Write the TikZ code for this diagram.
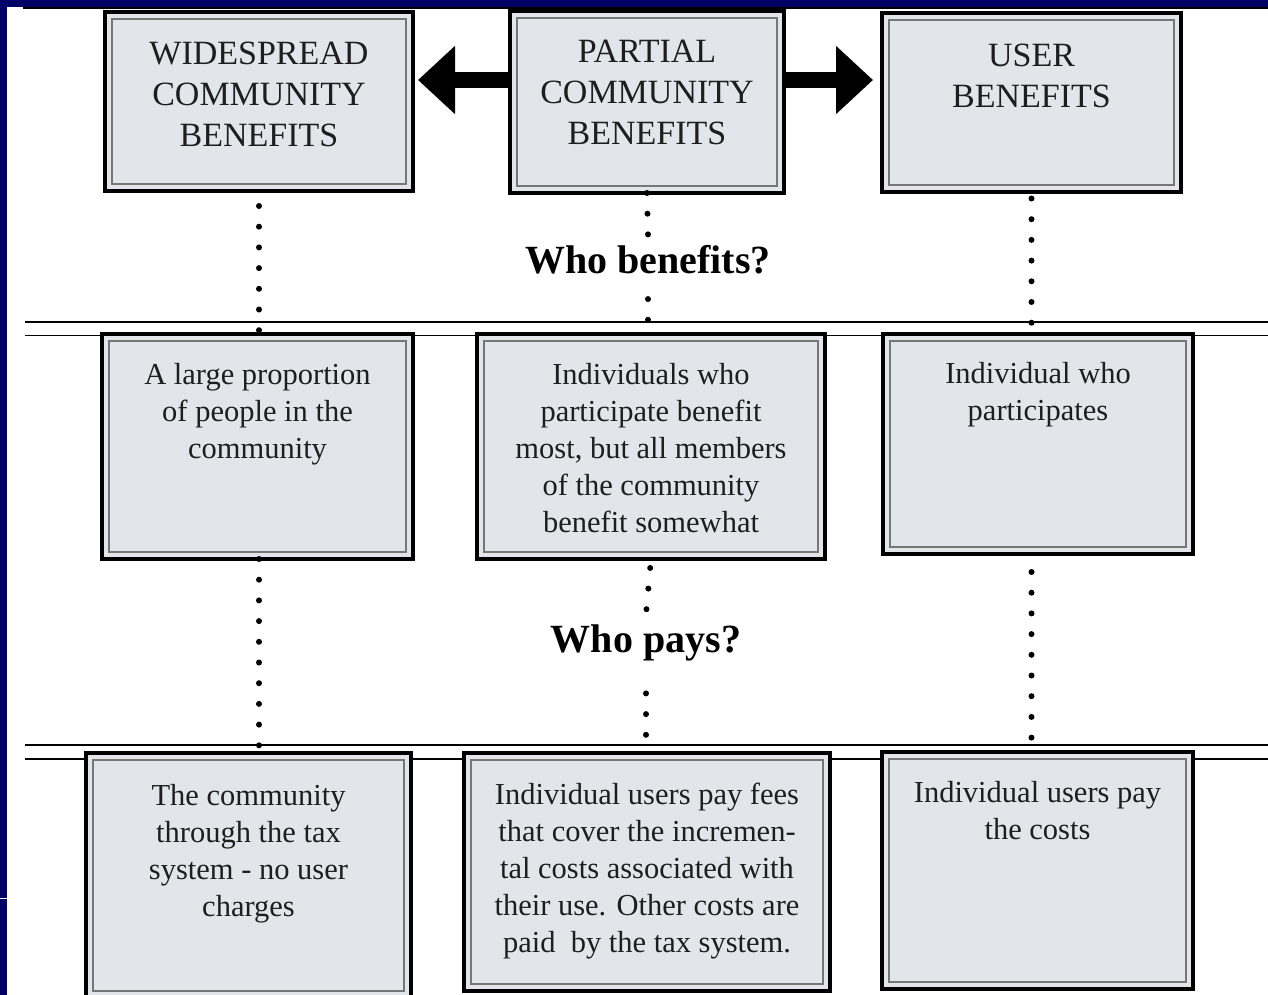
\documentclass[tikz,border=0pt]{standalone}
\usepackage{fontspec}
\setmainfont{Liberation Serif}
\usetikzlibrary{arrows.meta,positioning}
\definecolor{slidenavy}{RGB}{0,0,102}
\definecolor{panelgray}{RGB}{226,229,233}
\definecolor{rimgray}{RGB}{118,118,118}
\definecolor{inkgray}{RGB}{30,30,30}

\begin{document}
\begin{tikzpicture}[x=1pt, y=-1pt,
  panel/.style={draw=black, line width=4pt, fill=panelgray, outer sep=0pt, inner sep=0pt},
  headtext/.style={inner sep=0pt, align=center, text=inkgray, font=\fontsize{34}{41}\selectfont},
  boxtext/.style={inner sep=0pt, align=center, text=inkgray, font=\fontsize{30.5}{37}\selectfont},
  question/.style={inner sep=10pt, text=black, font=\bfseries\fontsize{40}{48}\selectfont},
  dotline/.style={line width=6pt, line cap=round, dash pattern=on 0pt off 20.7pt},
  bigarrow/.style={line width=16pt, -{Triangle[length=37pt, width=66pt]}},
  sepline/.style={line width=1.6pt}]
\useasboundingbox (0,0) rectangle (1268,995);

% slide frame
\fill[slidenavy] (0,0) rectangle (1268,7);
\fill[slidenavy] (0,0) rectangle (7,995);
\draw[white, line width=1pt] (0,898) -- (7,898);
\draw[line width=2pt] (23,8.5) -- (1268,8.5);

% double rules between the rows
\draw[sepline] (25,322) -- (1268,322);
\draw[sepline] (25,335.5) -- (1268,335.5);
\draw[sepline] (25,745) -- (1268,745);
\draw[sepline] (25,759) -- (1268,759);

% kinds of benefit
\node[panel, minimum width=308pt, minimum height=179pt] (wide) at (259,101.5) {};
\node[panel, minimum width=274pt, minimum height=182pt] (partial) at (647,102) {};
\node[panel, minimum width=299pt, minimum height=179pt] (user) at (1031.5,102.5) {};

% who benefits
\node[panel, minimum width=311pt, minimum height=225pt] (large) at (257.5,446.5) {};
\node[panel, minimum width=348pt, minimum height=225pt] (somewhat) at (651,446.5) {};
\node[panel, minimum width=310pt, minimum height=220pt] (single) at (1038,444) {};

% who pays
\node[panel, minimum width=325pt, minimum height=245pt] (taxsys) at (248.5,875.5) {};
\node[panel, minimum width=366pt, minimum height=238pt] (incr) at (647,872) {};
\node[panel, minimum width=311pt, minimum height=237pt] (usercost) at (1037.5,870.5) {};

\foreach \b in {wide,partial,user,large,somewhat,single,taxsys,incr,usercost}
  \draw[rimgray, line width=1.3pt] ([shift={(7,7)}]\b.north west) rectangle ([shift={(-7,-7)}]\b.south east);

\node[headtext, below=30pt of wide.north] (widetxt) {WIDESPREAD\\COMMUNITY\\BENEFITS};
\node[headtext, below=29pt of partial.north] (partialtxt) {PARTIAL\\COMMUNITY\\BENEFITS};
\node[headtext, below=30.5pt of user.north] (usertxt) {USER\\BENEFITS};

\node[boxtext, below=29pt of large.north] (largetxt) {A large proportion\\of people in the\\community};
\node[boxtext, below=29pt of somewhat.north] (somewhattxt) {Individuals who\\participate benefit\\most, but all members\\of the community\\benefit somewhat};
\node[boxtext, below=28pt of single.north] (singletxt) {Individual who\\participates};

\node[boxtext, below=31pt of taxsys.north] (taxsystxt) {The community\\through the tax\\system - no user\\charges};
\node[boxtext, below=30pt of incr.north] (incrtxt) {Individual users pay fees\\that cover the incremen-\\tal costs associated with\\their use. Other costs are\\paid\ \ by the tax system.};
\node[boxtext, below=29pt of usercost.north] (usercosttxt) {Individual users pay\\the costs};

\node[question] (whoben) at (648,259.5) {Who benefits?};
\node[question] (whopays) at (646,643) {Who pays?};

% block arrows
\draw[bigarrow] ([yshift=22pt]partial.west) -- ([yshift=21.5pt, xshift=5pt]wide.east);
\draw[bigarrow] ([yshift=22pt]partial.east) -- ([yshift=22.5pt, xshift=-9pt]user.west);

% dotted links
\draw[dotline, dash phase=5.7pt] (wide.south) -- (wide.south |- large.north);
\draw[dotline] (partial.south) -- (whoben.north);
\draw[dotline, dash phase=5.7pt] (whoben.south) -- (whoben.south |- somewhat.north);
\draw[dotline, dash phase=14.2pt] (user.south) -- (user.south |- single.north);

\draw[dotline] (wide.south |- large.south) -- (wide.south |- taxsys.north);
\draw[dotline, dash phase=11.7pt] (somewhat.south) -- (whopays.north);
\draw[dotline, shorten <=22pt] (whopays.south) -- (whopays.south |- incr.north);
\draw[dotline, dash phase=2.7pt] (user.south |- single.south) -- (user.south |- usercost.north);
\end{tikzpicture}
\end{document}
